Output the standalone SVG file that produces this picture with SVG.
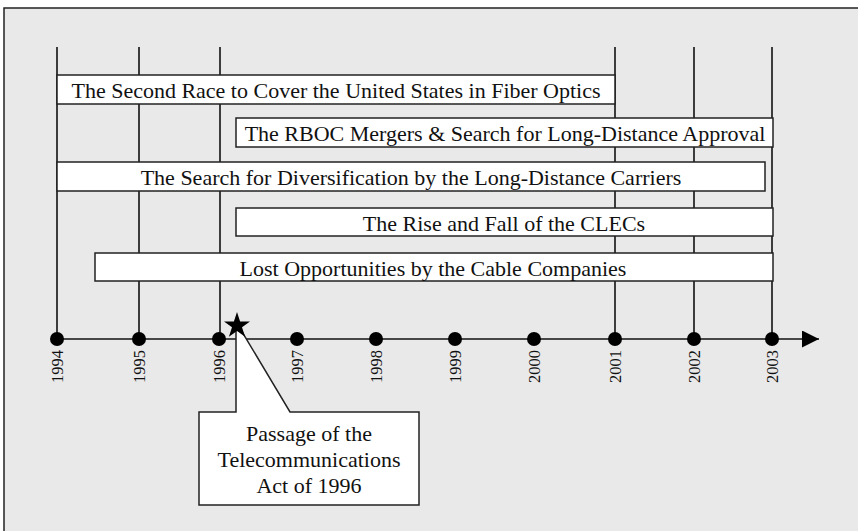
<svg xmlns="http://www.w3.org/2000/svg" width="858" height="531" viewBox="0 0 858 531">
<defs>
<style>
.frame{fill:#e9e9e9;stroke:#222;stroke-width:1.5}
.vl{stroke:#111;stroke-width:1.6;fill:none}
.bar{fill:#fff;stroke:#222;stroke-width:1.5}
.bt{font-family:"Liberation Serif","Times New Roman",serif;font-size:22px;fill:#111;text-anchor:middle}
.yr{font-family:"Liberation Serif","Times New Roman",serif;font-size:16.5px;fill:#111}
.dot{fill:#000}
.call{fill:#fff;stroke:#222;stroke-width:1.5}
</style>
<marker id="arr" viewBox="0 0 10 10" refX="10" refY="5" markerWidth="17" markerHeight="17" markerUnits="userSpaceOnUse" orient="auto">
<path d="M0,0 L10,5 L0,10 Z" fill="#000"/>
</marker>
</defs>
<rect class="frame" x="4" y="8" width="900" height="600"/>
<g id="connectors">
<line class="vl" x1="57" y1="47" x2="57" y2="339"/>
<line class="vl" x1="139" y1="47" x2="139" y2="339"/>
<line class="vl" x1="220" y1="47" x2="220" y2="339"/>
<line class="vl" x1="615" y1="47" x2="615" y2="339"/>
<line class="vl" x1="694" y1="47" x2="694" y2="339"/>
<line class="vl" x1="772" y1="47" x2="772" y2="339"/>
<line class="vl" x1="57" y1="339" x2="819" y2="339" marker-end="url(#arr)"/>
</g>
<g id="bar1"><rect class="bar" x="57" y="75" width="558" height="29"/><text class="bt" x="336" y="98">The Second Race to Cover the United States in Fiber Optics</text></g>
<g id="bar2"><rect class="bar" x="236" y="118" width="537" height="29"/><text class="bt" x="505" y="141">The RBOC Mergers &amp; Search for Long-Distance Approval</text></g>
<g id="bar3"><rect class="bar" x="57" y="162" width="708" height="29"/><text class="bt" x="411" y="185">The Search for Diversification by the Long-Distance Carriers</text></g>
<g id="bar4"><rect class="bar" x="236" y="208" width="537" height="28"/><text class="bt" x="504" y="230.5">The Rise and Fall of the CLECs</text></g>
<g id="bar5"><rect class="bar" x="95" y="253" width="678" height="28"/><text class="bt" x="433" y="275.5">Lost Opportunities by the Cable Companies</text></g>
<g id="years">
<g id="y1994"><circle class="dot" cx="57" cy="339" r="7"/><text class="yr" transform="translate(63,383) rotate(-90)">1994</text></g>
<g id="y1995"><circle class="dot" cx="139" cy="339" r="7"/><text class="yr" transform="translate(145,383) rotate(-90)">1995</text></g>
<g id="y1996"><circle class="dot" cx="219" cy="339" r="7"/><text class="yr" transform="translate(225,383) rotate(-90)">1996</text></g>
<g id="y1997"><circle class="dot" cx="297" cy="339" r="7"/><text class="yr" transform="translate(303,383) rotate(-90)">1997</text></g>
<g id="y1998"><circle class="dot" cx="376" cy="339" r="7"/><text class="yr" transform="translate(382,383) rotate(-90)">1998</text></g>
<g id="y1999"><circle class="dot" cx="455" cy="339" r="7"/><text class="yr" transform="translate(461,383) rotate(-90)">1999</text></g>
<g id="y2000"><circle class="dot" cx="534" cy="339" r="7"/><text class="yr" transform="translate(540,383) rotate(-90)">2000</text></g>
<g id="y2001"><circle class="dot" cx="615" cy="339" r="7"/><text class="yr" transform="translate(621,383) rotate(-90)">2001</text></g>
<g id="y2002"><circle class="dot" cx="694" cy="339" r="7"/><text class="yr" transform="translate(700,383) rotate(-90)">2002</text></g>
<g id="y2003"><circle class="dot" cx="772" cy="339" r="7"/><text class="yr" transform="translate(778,383) rotate(-90)">2003</text></g>
</g>
<g id="callout">
<polygon class="call" points="199,412 236,412 236,326 238,325 290,412 419,412 419,505 199,505"/>
<text class="bt" x="309" y="441">Passage of the</text>
<text class="bt" x="309" y="467">Telecommunications</text>
<text class="bt" x="309" y="493">Act of 1996</text>
</g>
<g id="star">
<polygon fill="#000" points="237,312 240.1,321.5 250,321.5 242,327.3 245.1,336.8 237,330.9 228.9,336.8 232,327.3 224,321.5 233.9,321.5"/>
</g>
</svg>
